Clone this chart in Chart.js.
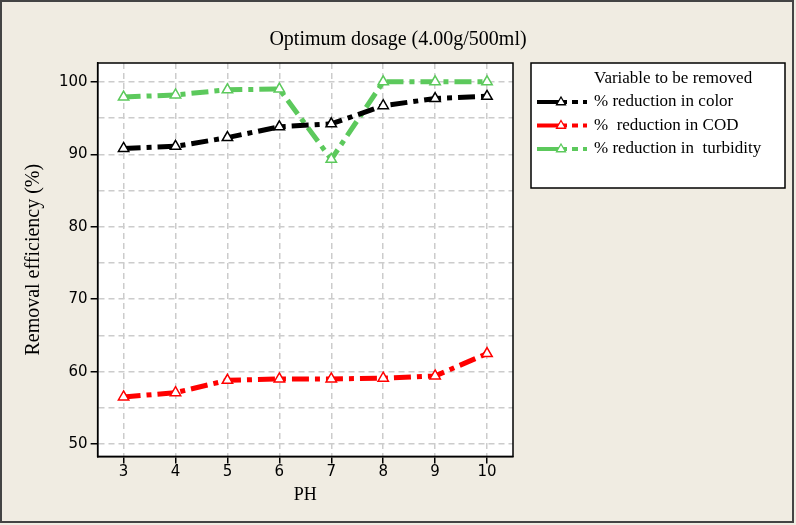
<!DOCTYPE html>
<html>
<head>
<meta charset="utf-8">
<script src="https://cdn.jsdelivr.net/npm/chart.js@4"></script>
<style>
  html, body { margin: 0; padding: 0; background: #f0ece2; }
  #wrap { width: 796px; height: 525px; }
</style>
</head>
<body>
<div id="wrap"><canvas id="phChart" width="796" height="525"></canvas></div>
<script>
// pH values on the x axis
const phValues = [3, 4, 5, 6, 7, 8, 9, 10];

// removal efficiency (%)
const colorRemoval = [90.8, 91.1, 92.3, 93.8, 94.2, 96.7, 97.7, 98.0];
const codRemoval = [56.5, 57.1, 58.8, 59.0, 59.0, 59.1, 59.4, 62.5];
const turbidityRemoval = [97.9, 98.2, 98.9, 99.0, 89.3, 100.0, 100.0, 100.0];

const seriesNames = ["% reduction in color", "%  reduction in COD", "% reduction in  turbidity"];
const legendTitle = "Variable to be removed";
const chartTitle = "Optimum dosage (4.00g/500ml)";

const serif = "'Liberation Serif', 'Times New Roman', serif";
const sans = "'DejaVu Sans', Verdana, sans-serif";
const dashPattern = [17, 6, 5, 6];

function toPoints(ys) {
    return phValues.map((x, i) => ({ x: x, y: ys[i] }));
}

function makeSeries(label, values, color) {
    return {
        label: label,
        data: toPoints(values),
        borderColor: color,
        backgroundColor: color,
        borderWidth: 5,
        borderDash: dashPattern,
        pointStyle: "triangle",
        pointRadius: 6,
        pointHoverRadius: 6,
        pointBorderWidth: 1.5,
        pointBorderColor: color,
        pointBackgroundColor: "#ffffff",
        tension: 0,
        fill: false
    };
}

// background, plot frame, outer frame and the centred title
const framePlugin = {
    id: "frame",
    beforeDraw(chart) {
        const ctx = chart.ctx;
        const a = chart.chartArea;
        ctx.save();
        ctx.fillStyle = "#f0ece2";
        ctx.fillRect(0, 0, chart.width, chart.height);
        ctx.fillStyle = "#ffffff";
        ctx.fillRect(a.left, a.top, a.right - a.left, a.bottom - a.top);
        ctx.restore();
    },
    afterDraw(chart) {
        const ctx = chart.ctx;
        const a = chart.chartArea;
        ctx.save();
        ctx.strokeStyle = "#000000";
        ctx.lineWidth = 1.5;
        ctx.strokeRect(a.left, a.top, a.right - a.left, a.bottom - a.top);
        ctx.strokeStyle = "#444444";
        ctx.lineWidth = 2;
        ctx.strokeRect(1, 1, 792, 521);
        ctx.fillStyle = "#000000";
        ctx.font = "20px " + serif;
        ctx.textAlign = "center";
        ctx.textBaseline = "middle";
        ctx.fillText(chartTitle, chart.width / 2, 40);
        ctx.restore();
    }
};

// boxed legend to the right of the plot
const boxLegendPlugin = {
    id: "boxLegend",
    afterDraw(chart) {
        const ctx = chart.ctx;
        const a = chart.chartArea;
        const left = a.right + 18;
        const top = a.top;
        const width = 254;
        const height = 125;
        const textX = left + 63;
        ctx.save();
        ctx.fillStyle = "#ffffff";
        ctx.fillRect(left, top, width, height);
        ctx.strokeStyle = "#000000";
        ctx.lineWidth = 1.5;
        ctx.strokeRect(left, top, width, height);

        ctx.fillStyle = "#000000";
        ctx.font = "17px " + serif;
        ctx.textBaseline = "middle";
        ctx.textAlign = "left";
        ctx.fillText(legendTitle, textX, top + 16);

        chart.data.datasets.forEach((ds, i) => {
            const y = top + 39 + i * 23.5;
            ctx.strokeStyle = ds.borderColor;
            ctx.lineWidth = 4;
            ctx.setLineDash([30, 5, 6, 5, 4, 20]);
            ctx.beginPath();
            ctx.moveTo(left + 6, y);
            ctx.lineTo(left + 56, y);
            ctx.stroke();
            ctx.setLineDash([]);
            // small open triangle marker
            const cx = left + 30, r = 5;
            ctx.fillStyle = "#ffffff";
            ctx.lineWidth = 1.3;
            ctx.beginPath();
            ctx.moveTo(cx, y - r);
            ctx.lineTo(cx + r * 0.9, y + r * 0.55);
            ctx.lineTo(cx - r * 0.9, y + r * 0.55);
            ctx.closePath();
            ctx.fill();
            ctx.stroke();
            ctx.fillStyle = "#000000";
            ctx.fillText(seriesNames[i], textX, y);
        });
        ctx.restore();
    }
};

const ctx = document.getElementById("phChart").getContext("2d");

const phChart = new Chart(ctx, {
    type: "line",
    data: {
        datasets: [
            makeSeries(seriesNames[0], colorRemoval, "#000000"),
            makeSeries(seriesNames[1], codRemoval, "#ff0000"),
            makeSeries(seriesNames[2], turbidityRemoval, "#5cc95c")
        ]
    },
    options: {
        responsive: false,
        animation: false,
        devicePixelRatio: 1,
        layout: { padding: { left: 18, right: 283, top: 63, bottom: 19 } },
        plugins: {
            legend: { display: false },
            tooltip: { enabled: false },
            title: { display: false }
        },
        scales: {
            x: {
                type: "linear",
                min: 2.5,
                max: 10.5,
                afterBuildTicks: (axis) => {
                    axis.ticks = phValues.map((v) => ({ value: v }));
                },
                ticks: {
                    color: "#000000",
                    font: { family: sans, size: 15 },
                    padding: 0
                },
                grid: {
                    color: "#cccccc",
                    lineWidth: 1.5,
                    tickColor: "#000000",
                    tickBorderDash: [],
                    tickLength: 7,
                    tickWidth: 1.5
                },
                border: { color: "#000000", width: 1.5, dash: [6, 4] },
                title: {
                    display: true,
                    text: "PH",
                    color: "#000000",
                    font: { family: serif, size: 18 },
                    padding: { top: 3, bottom: 0 }
                }
            },
            y: {
                min: 48.3,
                max: 102.6,
                ticks: {
                    stepSize: 5,
                    includeBounds: false,
                    color: "#000000",
                    font: { family: sans, size: 15 },
                    padding: 3,
                    callback: (v) => (v % 10 === 0 ? String(v) : "")
                },
                grid: {
                    color: "#cccccc",
                    lineWidth: 1.5,
                    tickColor: (c) => (c.tick && c.tick.value % 10 === 0 ? "#000000" : "rgba(0,0,0,0)"),
                    tickBorderDash: [],
                    tickLength: 7,
                    tickWidth: 1.5
                },
                border: { color: "#000000", width: 1.5, dash: [6, 4] },
                title: {
                    display: true,
                    text: "Removal efficiency (%)",
                    color: "#000000",
                    font: { family: serif, size: 20 },
                    padding: { top: 4, bottom: 10 }
                }
            }
        }
    },
    plugins: [framePlugin, boxLegendPlugin]
});
</script>
</body>
</html>
